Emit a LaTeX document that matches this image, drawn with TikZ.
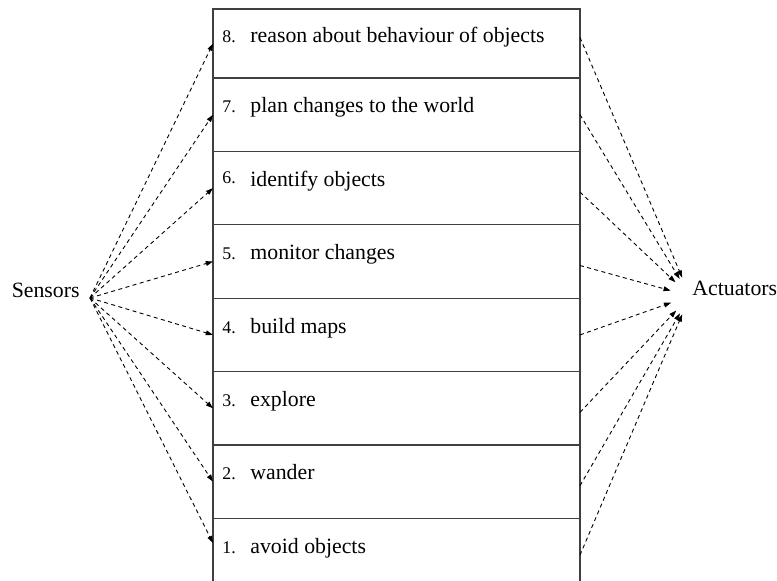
\documentclass[tikz,border=0pt]{standalone}
\usepackage{fontspec}
\setmainfont{Liberation Serif}
\usetikzlibrary{positioning,arrows.meta}
\tikzset{
  layerbox/.style={draw=black!75, line width=0.6pt, minimum width=183.5pt, minimum height=36.7pt, inner sep=0pt, outer sep=0pt},
  layertext/.style={anchor=base west, inner sep=0pt},
  linkarrow/.style={-{Triangle[length=3.6pt, width=2.4pt]}, line width=0.45pt, dash pattern=on 2pt off 1.7pt}
}
\newcommand{\layernum}[1]{\makebox[14pt][l]{\fontsize{8.9}{10}\selectfont #1}}

\begin{document}
\begin{tikzpicture}[x=0.5pt, y=-0.5pt, every node/.style={font=\fontsize{10.9}{13}\selectfont}]
  \useasboundingbox (0,0) rectangle (777,581);
  % layers, top to bottom
  \node[layerbox, minimum height=34.5pt, anchor=north west] (l8) at (213,9) {};
  \node[layerbox, below=0pt of l8] (l7) {};
  \node[layerbox, below=0pt of l7] (l6) {};
  \node[layerbox, below=0pt of l6] (l5) {};
  \node[layerbox, below=0pt of l5] (l4) {};
  \node[layerbox, below=0pt of l4] (l3) {};
  \node[layerbox, below=0pt of l3] (l2) {};
  \node[layerbox, below=0pt of l2] (l1) {};
  % layer labels
  \node[layertext] at ([xshift=4.5pt, yshift=-17pt]l8.north west) {\layernum{8.}reason about behaviour of objects};
  \node[layertext] at ([xshift=4.5pt, yshift=-17.5pt]l7.north west) {\layernum{7.}plan changes to the world};
  \node[layertext] at ([xshift=4.5pt, yshift=-17.5pt]l6.north west) {\layernum{\raisebox{1.5pt}{6.}}identify objects};
  \node[layertext] at ([xshift=4.5pt, yshift=-17.5pt]l5.north west) {\layernum{5.}monitor changes};
  \node[layertext] at ([xshift=4.5pt, yshift=-17.5pt]l4.north west) {\layernum{4.}build maps};
  \node[layertext] at ([xshift=4.5pt, yshift=-17.5pt]l3.north west) {\layernum{3.}explore};
  \node[layertext] at ([xshift=4.5pt, yshift=-17.5pt]l2.north west) {\layernum{2.}wander};
  \node[layertext] at ([xshift=4.5pt, yshift=-17.5pt]l1.north west) {\layernum{1.}avoid objects};
  % ends
  \node[anchor=base east, inner xsep=5pt, inner ysep=0pt] (sensors) at (90,298) {Sensors};
  \node[anchor=base west, inner xsep=1pt, inner ysep=0pt] (actuators) at (690,296) {Actuators};
  % sensors to layers
  \draw[linkarrow] (sensors.base east) -- (l8.west);
  \draw[linkarrow] (sensors.base east) -- (l7.west);
  \draw[linkarrow] (sensors.base east) -- (l6.west);
  \draw[linkarrow] (sensors.base east) -- (l5.west);
  \draw[linkarrow] (sensors.base east) -- (l4.west);
  \draw[linkarrow] (sensors.base east) -- (l3.west);
  \draw[linkarrow] (sensors.base east) -- (l2.west);
  \draw[linkarrow] (sensors.base east) -- ([yshift=6pt]l1.west);
  % layers to actuators
  \draw[linkarrow, shorten >=10pt] ([yshift=3pt]l8.east) -- (actuators.base west);
  \draw[linkarrow, shorten >=10pt] (l7.east) -- (actuators.base west);
  \draw[linkarrow, shorten >=10pt] ([yshift=-2pt]l6.east) -- (actuators.base west);
  \draw[linkarrow, shorten >=10pt] ([yshift=-2pt]l5.east) -- (actuators.base west);
  \draw[linkarrow, shorten >=10pt] (l4.east) -- (actuators.base west);
  \draw[linkarrow, shorten >=10pt] ([yshift=-2pt]l3.east) -- (actuators.base west);
  \draw[linkarrow, shorten >=10pt] ([yshift=-2pt]l2.east) -- (actuators.base west);
  \draw[linkarrow, shorten >=10pt] (l1.east) -- (actuators.base west);
\end{tikzpicture}
\end{document}
